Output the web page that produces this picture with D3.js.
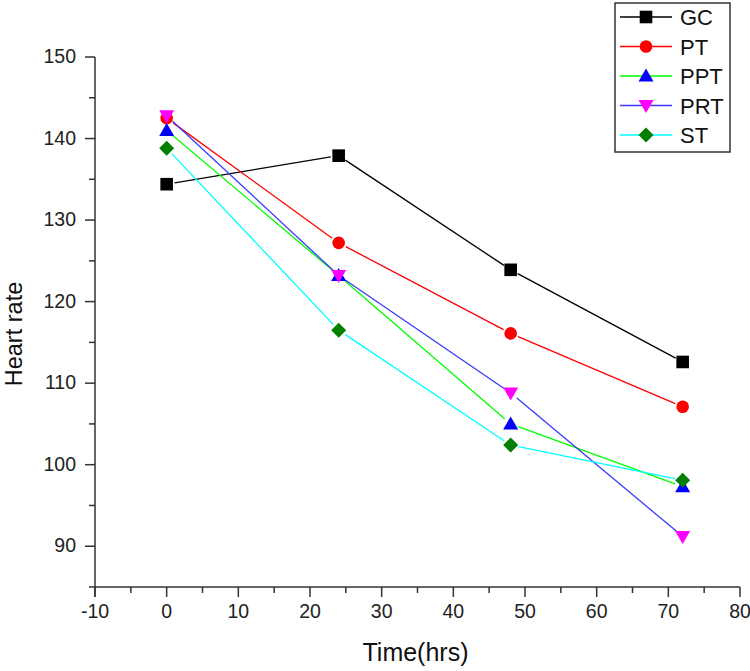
<!DOCTYPE html>
<html><head><meta charset="utf-8">
<script src="https://cdn.jsdelivr.net/npm/d3@7"></script>
<style>body{margin:0;background:#fff}svg{display:block}text{font-family:Arial,"Liberation Sans",sans-serif}</style>
</head><body><svg id="c" width="750" height="671"></svg>
<script>
const times = [0, 24, 48, 72];
const seriesNames = ["GC", "PT", "PPT", "PRT", "ST"];
const GC  = [134.4, 137.9, 123.9, 112.6];
const PT  = [142.5, 127.2, 116.1, 107.1];
const PPT = [141.0, 123.2, 105.0, 97.3];
const PRT = [142.8, 123.2, 108.8, 91.2];
const ST  = [138.8, 116.5, 102.4, 98.1];
const xTicks = [-10, 0, 10, 20, 30, 40, 50, 60, 70, 80];
const yTicks = [90, 100, 110, 120, 130, 140, 150];

const styles = {
  GC:  {line: "#000000", fill: "#000000", shape: "square"},
  PT:  {line: "#ff0000", fill: "#ff0000", shape: "circle"},
  PPT: {line: "#00ff00", fill: "#0000ff", shape: "up"},
  PRT: {line: "#3a3aff", fill: "#ff00ff", shape: "down"},
  ST:  {line: "#00ffff", fill: "#007f00", shape: "diamond"}
};
const data = {GC, PT, PPT, PRT, ST};

const svg = d3.select("#c");
const x = d3.scaleLinear().domain([-10, 80]).range([95, 740]);
const y = d3.scaleLinear().domain([85, 150]).range([587, 57]);

function markerPath(shape, cx, cy) {
  const p = d3.path();
  if (shape === "square") { const h = 6.3; p.rect(cx - h, cy - h, 2*h, 2*h); }
  else if (shape === "circle") { p.arc(cx, cy, 6.3, 0, 2*Math.PI); }
  else if (shape === "up") { p.moveTo(cx, cy - 7.5); p.lineTo(cx + 7.5, cy + 5.5); p.lineTo(cx - 7.5, cy + 5.5); p.closePath(); }
  else if (shape === "down") { p.moveTo(cx, cy + 7.5); p.lineTo(cx + 7.5, cy - 5.5); p.lineTo(cx - 7.5, cy - 5.5); p.closePath(); }
  else if (shape === "diamond") { const h = 7.5; p.moveTo(cx, cy - h); p.lineTo(cx + h, cy); p.lineTo(cx, cy + h); p.lineTo(cx - h, cy); p.closePath(); }
  return p.toString();
}

// axes
const axisColor = "#333";
const g = svg.append("g");
g.append("line").attr("x1", x(-10)).attr("x2", x(-10)).attr("y1", y(150)).attr("y2", y(85) + 10).attr("stroke", axisColor).attr("stroke-width", 1.5);
g.append("line").attr("x1", x(-10) - 6).attr("x2", x(80)).attr("y1", y(85)).attr("y2", y(85)).attr("stroke", axisColor).attr("stroke-width", 1.5);

yTicks.forEach(v => {
  g.append("line").attr("x1", x(-10) - 10).attr("x2", x(-10)).attr("y1", y(v)).attr("y2", y(v)).attr("stroke", axisColor).attr("stroke-width", 1.5);
  g.append("text").attr("x", 76).attr("y", y(v) + 6).attr("text-anchor", "end").attr("font-size", 19.5).attr("fill", "#222").text(v);
});
d3.range(95, 150, 10).forEach(v => {
  g.append("line").attr("x1", x(-10) - 6).attr("x2", x(-10)).attr("y1", y(v)).attr("y2", y(v)).attr("stroke", axisColor).attr("stroke-width", 1.5);
});
xTicks.forEach(v => {
  g.append("line").attr("x1", x(v)).attr("x2", x(v)).attr("y1", y(85)).attr("y2", y(85) + 10).attr("stroke", axisColor).attr("stroke-width", 1.5);
  g.append("text").attr("x", x(v)).attr("y", 618).attr("text-anchor", "middle").attr("font-size", 19.5).attr("fill", "#222").text(v);
});
d3.range(-5, 80, 10).forEach(v => {
  g.append("line").attr("x1", x(v)).attr("x2", x(v)).attr("y1", y(85)).attr("y2", y(85) + 6).attr("stroke", axisColor).attr("stroke-width", 1.5);
});

svg.append("text").attr("x", (x(-10) + x(80)) / 2 - 2).attr("y", 661).attr("text-anchor", "middle").attr("font-size", 25).attr("fill", "#111").text("Time(hrs)");
svg.append("text").attr("transform", "translate(22,334) rotate(-90)").attr("text-anchor", "middle").attr("font-size", 23.5).attr("fill", "#111").text("Heart rate");

// series
const gap = 8;
seriesNames.forEach(name => {
  const st = styles[name];
  const vals = data[name];
  const pts = times.map((t, i) => [x(t), y(vals[i])]);
  for (let i = 0; i < pts.length - 1; i++) {
    const [x1, y1] = pts[i], [x2, y2] = pts[i + 1];
    const dx = x2 - x1, dy = y2 - y1, L = Math.hypot(dx, dy);
    const ux = dx / L, uy = dy / L;
    svg.append("line").attr("x1", x1 + ux * gap).attr("y1", y1 + uy * gap)
      .attr("x2", x2 - ux * gap).attr("y2", y2 - uy * gap)
      .attr("stroke", st.line).attr("stroke-width", 1.3);
  }
});
seriesNames.forEach(name => {
  const st = styles[name];
  const vals = data[name];
  times.forEach((t, i) => {
    svg.append("path").attr("d", markerPath(st.shape, x(t), y(vals[i]))).attr("fill", st.fill);
  });
});

// legend
const lg = svg.append("g");
lg.append("rect").attr("x", 615).attr("y", 3).attr("width", 115).attr("height", 149).attr("fill", "#fff").attr("stroke", "#333").attr("stroke-width", 1.5);
seriesNames.forEach((name, i) => {
  const st = styles[name];
  const cy = 17 + i * 29.5;
  lg.append("line").attr("x1", 620).attr("x2", 672).attr("y1", cy).attr("y2", cy).attr("stroke", st.line).attr("stroke-width", 1.3);
  lg.append("path").attr("d", markerPath(st.shape, 646, cy)).attr("fill", st.fill);
  lg.append("text").attr("x", 680).attr("y", cy + 8).attr("font-size", 22).attr("fill", "#111").text(name);
});
</script></body></html>
